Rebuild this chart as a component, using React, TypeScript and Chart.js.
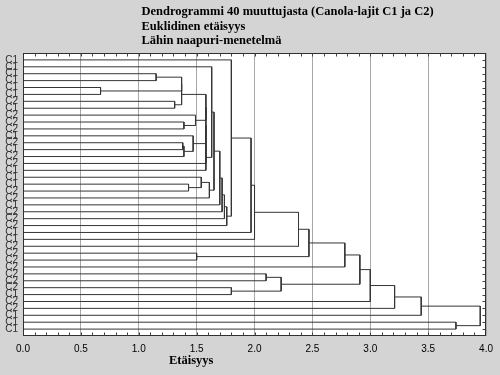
import React, { useEffect, useRef } from 'react';
import { Chart, registerables } from 'chart.js';

Chart.register(...registerables);

// Leaf labels, top to bottom
const leafLabels = [
  'C1', 'C1', 'C1', 'C1', 'C1', 'C1', 'C2', 'C1', 'C2', 'C2',
  'C2', 'C1', 'C2', 'C1', 'C2', 'C2', 'C1', 'C1', 'C1', 'C2',
  'C2', 'C1', 'C2', 'C2', 'C2', 'C1', 'C1', 'C2', 'C2', 'C2',
  'C2', 'C2', 'C2', 'C2', 'C1', 'C2', 'C2', 'C1', 'C1', 'C1',
];

// Merge steps: child code < 100 = leaf index, >= 100 = earlier merge (100 + index)
const mergeLeft = [
  4, 2, 6, 101, 103, 9, 8, 12, 107, 11,
  104, 110, 111, 112, 1, 18, 17, 116, 114, 118,
  119, 120, 121, 0, 123, 124, 125, 28, 126, 128,
  31, 33, 130, 129, 133, 134, 135, 38, 136,
];
const mergeRight = [
  5, 3, 7, 100, 102, 10, 105, 13, 14, 108,
  106, 109, 15, 16, 113, 19, 115, 20, 117, 21,
  22, 23, 24, 122, 25, 26, 27, 29, 127, 30,
  32, 34, 131, 132, 35, 36, 37, 39, 137,
];
const mergeHeight = [
  0.67, 1.15, 1.31, 1.37, 1.37, 1.39, 1.49, 1.38, 1.39, 1.47,
  1.58, 1.58, 1.58, 1.58, 1.63, 1.43, 1.54, 1.61, 1.65, 1.70,
  1.72, 1.74, 1.76, 1.80, 1.97, 2.00, 2.38, 1.50, 2.47, 2.78,
  2.10, 1.80, 2.23, 2.91, 3.00, 3.21, 3.44, 3.74, 3.95,
];

const xTickValues = [0, 0.5, 1, 1.5, 2, 2.5, 3, 3.5, 4];

const titleLines = [
  'Dendrogrammi 40 muuttujasta (Canola-lajit C1 ja C2)',
  'Euklidinen etäisyys',
  'Lähin naapuri-menetelmä',
];
const xAxisTitle = 'Etäisyys';

type P = { x: number; y: number };

function buildPolylines(): P[][] {
  const nodes: P[] = [];
  const pos = (c: number): P => (c >= 100 ? nodes[c - 100] : { x: 0, y: c });
  const lines: P[][] = [];
  for (let k = 0; k < mergeHeight.length; k++) {
    const a = pos(mergeLeft[k]);
    const b = pos(mergeRight[k]);
    const h = mergeHeight[k];
    lines.push([
      { x: a.x, y: a.y },
      { x: h, y: a.y },
      { x: h, y: b.y },
      { x: b.x, y: b.y },
    ]);
    nodes.push({ x: h, y: (a.y + b.y) / 2 });
  }
  return lines;
}

const decorPlugin = {
  id: 'decor',
  beforeDraw(chart: any) {
    const { ctx, chartArea: ca, width, height } = chart;
    ctx.save();
    ctx.fillStyle = '#d4d4d4';
    ctx.fillRect(0, 0, width, height);
    ctx.fillStyle = '#ffffff';
    ctx.fillRect(ca.left, ca.top, ca.right - ca.left, ca.bottom - ca.top);
    ctx.restore();
  },
  afterDraw(chart: any) {
    const { ctx, chartArea: ca, scales } = chart;
    const xs = scales.x;
    const ys = scales.y;
    ctx.save();
    // frame
    ctx.strokeStyle = '#303030';
    ctx.lineWidth = 1;
    const l = Math.round(ca.left) + 0.5;
    const r = Math.round(ca.right) - 0.5;
    const t = Math.round(ca.top) + 0.5;
    const b = Math.round(ca.bottom) - 0.5;
    ctx.strokeRect(l, t, r - l, b - t);
    // minor ticks top & bottom
    ctx.strokeStyle = '#404040';
    ctx.beginPath();
    for (let i = 1; i < 40; i++) {
      const px = Math.round(xs.getPixelForValue(i / 10)) + 0.5;
      ctx.moveTo(px, t);
      ctx.lineTo(px, t + 3);
      ctx.moveTo(px, b);
      ctx.lineTo(px, b - 3);
    }
    // right ticks at each leaf
    for (let i = 0; i < leafLabels.length; i++) {
      const py = Math.round(ys.getPixelForValue(i)) + 0.5;
      ctx.moveTo(r, py);
      ctx.lineTo(r - 3, py);
    }
    ctx.stroke();
    // titles
    ctx.fillStyle = '#000000';
    ctx.font = 'bold 12.5px "Liberation Serif", "Times New Roman", serif';
    ctx.textAlign = 'left';
    ctx.textBaseline = 'alphabetic';
    const baselines = [15, 29.5, 44];
    titleLines.forEach((s, i) => ctx.fillText(s, 141.5, baselines[i]));
    ctx.fillText(xAxisTitle, 169, 364);
    ctx.restore();
  },
};

export default function App() {
  const ref = useRef<HTMLCanvasElement | null>(null);
  useEffect(() => {
    document.body.style.margin = '0';
    const canvas = ref.current;
    if (!canvas) return;
    const polylines = buildPolylines();
    const chart = new Chart(canvas, {
      type: 'scatter',
      data: {
        datasets: polylines.map((pts) => ({
          data: pts,
          showLine: true,
          borderColor: '#353535',
          borderWidth: 1,
          pointRadius: 0,
          pointHoverRadius: 0,
          tension: 0,
          fill: false,
        })),
      },
      options: {
        animation: false,
        responsive: false,
        devicePixelRatio: 1,
        events: [],
        layout: { padding: { top: 53, right: 12.5, left: 0, bottom: 0 } },
        plugins: {
          legend: { display: false },
          tooltip: { enabled: false },
          title: { display: false },
        },
        scales: {
          x: {
            type: 'linear',
            min: 0,
            max: 4,
            afterFit: (s: any) => {
              s.height = 39;
            },
            afterBuildTicks: (s: any) => {
              s.ticks = xTickValues.map((v) => ({ value: v }));
            },
            ticks: {
              autoSkip: false,
              maxRotation: 0,
              padding: 7,
              color: '#000000',
              font: { family: '"Liberation Sans", Arial, sans-serif', size: 10 },
              callback: (v: any) => Number(v).toFixed(1),
            },
            grid: { color: '#a8a8a8', lineWidth: 1, drawTicks: false },
            border: { display: false },
          },
          y: {
            type: 'linear',
            min: -1,
            max: 40,
            reverse: true,
            afterFit: (s: any) => {
              s.width = 23;
            },
            afterBuildTicks: (s: any) => {
              s.ticks = leafLabels.map((_, i) => ({ value: i }));
            },
            ticks: {
              autoSkip: false,
              padding: 5,
              color: '#303030',
              font: { family: '"Liberation Sans", Arial, sans-serif', size: 10 },
              callback: (v: any) => leafLabels[v] ?? '',
            },
            grid: { display: false, drawTicks: false },
            border: { display: false },
          },
        },
      },
      plugins: [decorPlugin],
    } as any);
    return () => chart.destroy();
  }, []);
  return (
    <div style={{ position: 'absolute', left: 0, top: 0, width: 500, height: 375 }}>
      <canvas ref={ref} width={500} height={375} style={{ display: 'block' }} />
    </div>
  );
}
